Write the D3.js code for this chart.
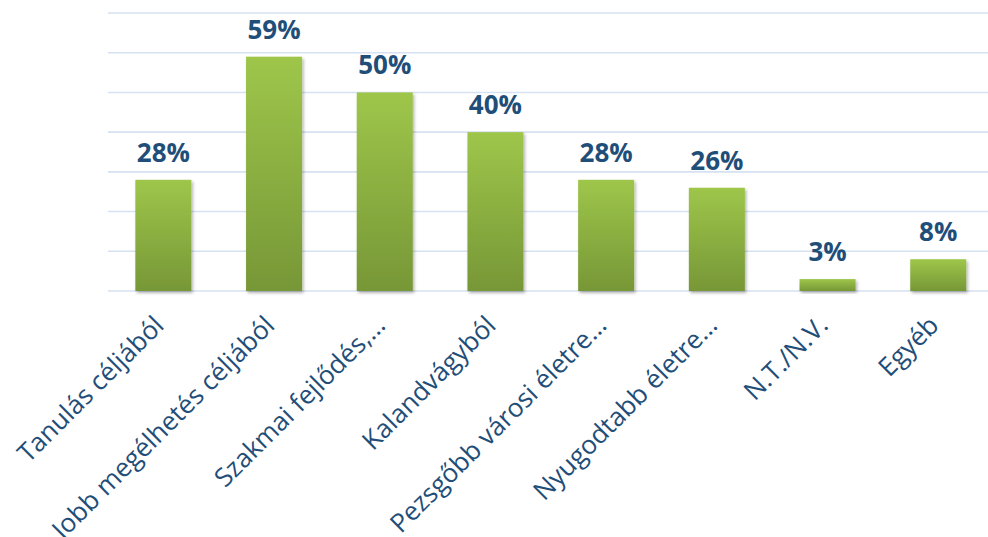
<!DOCTYPE html>
<html>
<head>
<meta charset="utf-8">
<script src="https://cdn.jsdelivr.net/npm/d3@7"></script>
<style>
  html, body { margin: 0; padding: 0; background: #fff; overflow: hidden; }
  svg { display: block; }
</style>
</head>
<body>
<svg id="chart" width="988" height="537"></svg>
<script>
// === Data ===
const categories = [
  'Tanulás céljából',
  'Jobb megélhetés céljából',
  'Szakmai fejlődés,…',
  'Kalandvágyból',
  'Pezsgőbb városi életre…',
  'Nyugodtabb életre…',
  'N.T./N.V.',
  'Egyéb'
];
const values = [28, 59, 50, 40, 28, 26, 3, 8];
const yTicks = [0, 10, 20, 30, 40, 50, 60, 70];

// === Layout ===
const W = 988, H = 537;
const plot = { left: 108, right: 993.6, top: 13, bottom: 291 };
const TEXT_BLUE = '#1F4E79';
const FONT = "'Open Sans', 'Liberation Sans', sans-serif";

const svg = d3.select('#chart');

const x = d3.scaleBand()
  .domain(categories)
  .range([plot.left, plot.right])
  .paddingInner(0.494)
  .paddingOuter(0.247);

const y = d3.scaleLinear()
  .domain([0, 70])
  .range([plot.bottom, plot.top]);

// --- defs: gradient + shadow ---
const defs = svg.append('defs');
const grad = defs.append('linearGradient')
  .attr('id', 'barGrad')
  .attr('x1', 0).attr('y1', 0).attr('x2', 0).attr('y2', 1);
grad.append('stop').attr('offset', '0%').attr('stop-color', '#9EC64A');
grad.append('stop').attr('offset', '100%').attr('stop-color', '#779737');

const shadow = defs.append('filter')
  .attr('id', 'shadow')
  .attr('x', '-20%').attr('y', '-20%').attr('width', '140%').attr('height', '140%');
shadow.append('feDropShadow')
  .attr('dx', 1.5).attr('dy', 2)
  .attr('stdDeviation', 1.8)
  .attr('flood-color', '#000')
  .attr('flood-opacity', 0.3);

// --- gridlines ---
svg.append('g')
  .selectAll('line')
  .data(yTicks)
  .join('line')
  .attr('x1', plot.left)
  .attr('x2', W)
  .attr('y1', d => y(d))
  .attr('y2', d => y(d))
  .attr('stroke', '#D6E1F1')
  .attr('stroke-width', 1.6);

// --- bars ---
svg.append('g')
  .selectAll('rect')
  .data(values)
  .join('rect')
  .attr('x', (d, i) => x(categories[i]))
  .attr('y', d => y(d))
  .attr('width', x.bandwidth())
  .attr('height', d => y(0) - y(d))
  .attr('fill', 'url(#barGrad)')
  .attr('filter', 'url(#shadow)');

// --- value labels ---
svg.append('g')
  .selectAll('text')
  .data(values)
  .join('text')
  .attr('x', (d, i) => x(categories[i]) + x.bandwidth() / 2)
  .attr('y', d => y(d) - 18)
  .attr('text-anchor', 'middle')
  .attr('font-family', FONT)
  .attr('font-weight', 'bold')
  .attr('font-size', 26)
  .attr('fill', TEXT_BLUE)
  .text(d => d + '%');

// --- category labels (rotated) ---
svg.append('g')
  .selectAll('text')
  .data(categories)
  .join('text')
  .attr('transform', d => {
    const cx = x(d) + x.bandwidth() / 2 + 2;
    return `translate(${cx},${plot.bottom + 36}) rotate(-45)`;
  })
  .attr('text-anchor', 'end')
  .attr('font-family', FONT)
  .attr('font-size', 26)
  .attr('fill', TEXT_BLUE)
  .text(d => d);
</script>
</body>
</html>
